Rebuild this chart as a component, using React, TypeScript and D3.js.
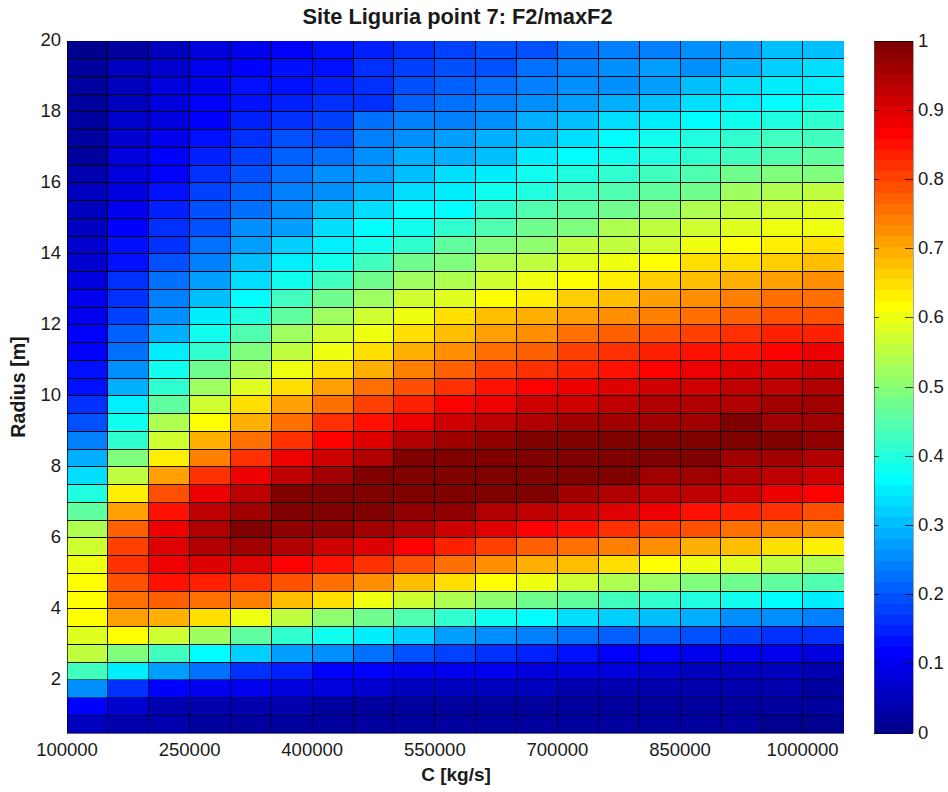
import React from "react";
import * as d3 from "d3";

const titleText = "Site Liguria point 7: F2/maxF2";
const xLabelText = "C [kg/s]";
const yLabelText = "Radius [m]";
const cStarts = [100000,150000,200000,250000,300000,350000,400000,450000,500000,550000,600000,650000,700000,750000,800000,850000,900000,950000,1000000];
const radiusTops = [20,19.5,19,18.5,18,17.5,17,16.5,16,15.5,15,14.5,14,13.5,13,12.5,12,11.5,11,10.5,10,9.5,9,8.5,8,7.5,7,6.5,6,5.5,5,4.5,4,3.5,3,2.5,2,1.5,1];
const xTicks = [100000,250000,400000,550000,700000,850000,1000000];
const yTicks = [2,4,6,8,10,12,14,16,18,20];
const barTicks = [0,0.1,0.2,0.3,0.4,0.5,0.6,0.7,0.8,0.9,1];

// F2/maxF2, rows from the top of the plot (radius 20) to the bottom
const f2Ratio = [
[.01,.03,.06,.08,.10,.11,.13,.15,.165,.18,.19,.20,.22,.235,.235,.25,.27,.30,.31],
[.02,.05,.07,.10,.11,.125,.14,.16,.18,.19,.20,.225,.245,.26,.275,.265,.29,.32,.34],
[.02,.055,.08,.10,.125,.135,.15,.165,.19,.21,.225,.235,.255,.265,.28,.30,.33,.35,.35],
[.02,.06,.085,.11,.13,.15,.165,.17,.215,.225,.235,.255,.27,.285,.31,.33,.35,.365,.385],
[.03,.065,.09,.11,.15,.17,.185,.22,.24,.245,.265,.285,.31,.33,.35,.365,.385,.395,.41],
[.03,.07,.10,.125,.17,.19,.20,.24,.26,.275,.29,.31,.335,.365,.385,.40,.42,.43,.43],
[.03,.08,.11,.15,.18,.205,.22,.26,.285,.285,.30,.345,.365,.38,.395,.42,.43,.45,.465],
[.04,.085,.11,.17,.195,.225,.26,.275,.30,.33,.35,.38,.40,.41,.43,.45,.47,.485,.495],
[.05,.09,.13,.18,.21,.24,.265,.29,.33,.35,.375,.395,.43,.445,.46,.475,.52,.535,.55],
[.06,.10,.15,.19,.225,.26,.30,.33,.365,.365,.42,.445,.46,.475,.515,.535,.555,.57,.59],
[.06,.11,.17,.20,.25,.28,.33,.365,.39,.41,.45,.48,.495,.535,.55,.575,.585,.60,.605],
[.07,.125,.17,.22,.27,.32,.355,.39,.42,.455,.49,.505,.55,.56,.575,.605,.615,.63,.65],
[.07,.135,.19,.245,.30,.355,.38,.43,.47,.495,.535,.56,.58,.605,.615,.645,.655,.67,.685],
[.08,.16,.22,.27,.33,.39,.43,.48,.52,.54,.57,.60,.615,.635,.665,.68,.695,.71,.725],
[.10,.165,.245,.31,.365,.43,.48,.52,.57,.59,.615,.64,.665,.68,.705,.72,.74,.755,.76],
[.10,.18,.255,.345,.405,.465,.52,.565,.605,.645,.675,.69,.71,.725,.74,.755,.77,.785,.795],
[.11,.205,.295,.38,.45,.52,.565,.605,.65,.685,.71,.725,.76,.775,.79,.80,.815,.83,.835],
[.115,.225,.35,.42,.495,.56,.605,.655,.695,.73,.76,.775,.80,.815,.83,.85,.855,.865,.88],
[.13,.255,.38,.48,.545,.605,.65,.695,.74,.77,.80,.82,.835,.85,.865,.875,.895,.895,.92],
[.14,.295,.42,.52,.59,.655,.71,.76,.79,.82,.85,.865,.88,.895,.915,.92,.93,.935,.94],
[.17,.35,.46,.57,.655,.71,.76,.81,.835,.865,.885,.915,.915,.935,.95,.95,.95,.965,.965],
[.20,.38,.535,.615,.695,.765,.82,.85,.885,.915,.935,.95,.965,.965,.965,.965,.985,.965,.965],
[.24,.42,.575,.69,.765,.82,.865,.90,.94,.96,.97,.985,.985,.985,.985,.985,.985,.985,.97],
[.285,.495,.63,.74,.82,.88,.92,.95,.985,.985,1,1,1,1,.985,.985,.965,.965,.95],
[.33,.56,.705,.825,.885,.935,.965,.985,1,1,1,1,1,.985,.965,.965,.95,.93,.92],
[.395,.635,.79,.89,.935,.99,1,1,1,1,1,.985,.965,.95,.935,.925,.915,.885,.865],
[.465,.71,.85,.935,.965,1,1,1,.98,.97,.945,.93,.915,.895,.88,.85,.835,.815,.795],
[.535,.775,.875,.945,.985,.975,.975,.96,.945,.915,.895,.865,.85,.82,.80,.79,.76,.74,.725],
[.57,.80,.90,.95,.96,.95,.915,.895,.865,.835,.805,.775,.76,.735,.725,.70,.685,.65,.63],
[.60,.815,.88,.895,.90,.865,.85,.815,.785,.75,.725,.695,.68,.65,.615,.60,.59,.56,.535],
[.615,.79,.85,.835,.815,.79,.76,.725,.685,.655,.615,.60,.575,.545,.52,.49,.48,.46,.45],
[.615,.76,.775,.765,.735,.68,.65,.60,.575,.535,.50,.475,.46,.43,.415,.395,.38,.365,.35],
[.615,.705,.695,.655,.60,.56,.515,.475,.44,.41,.38,.365,.34,.315,.30,.285,.265,.25,.245],
[.585,.615,.575,.53,.465,.41,.38,.355,.315,.27,.25,.24,.23,.215,.205,.195,.185,.17,.16],
[.55,.495,.43,.365,.315,.28,.25,.22,.20,.175,.16,.15,.135,.12,.115,.105,.10,.095,.09],
[.43,.35,.28,.22,.165,.155,.115,.11,.105,.10,.095,.085,.08,.08,.07,.06,.055,.05,.045],
[.255,.16,.115,.095,.105,.09,.08,.07,.06,.055,.05,.05,.045,.045,.04,.04,.035,.035,.03],
[.11,.065,.045,.04,.035,.035,.03,.03,.03,.03,.03,.025,.025,.025,.02,.02,.02,.02,.02],
[.05,.04,.035,.03,.03,.03,.03,.03,.03,.025,.025,.025,.02,.02,.02,.02,.02,.015,.015],
];

const W = 948, H = 792;
const plot = { l: 67, r: 843.5, t: 41, b: 733 };
const bar = { l: 874, r: 913 };
const font = "'Liberation Sans', Arial, sans-serif";
const textColor = "#1a1a1a";

const xScale = d3.scaleLinear().domain([100000, 1050000]).range([plot.l, plot.r]);
const yScale = d3.scaleLinear().domain([0.5, 20]).range([plot.b, plot.t]);
const barScale = d3.scaleLinear().domain([0, 1]).range([plot.b, plot.t]);

const jetRamp = d3.scaleLinear<string>()
  .domain([0, 0.1111, 0.3651, 0.619, 0.873, 1])
  .range(["#00008f", "#0000ff", "#00ffff", "#ffff00", "#ff0000", "#800000"]);
const jet = (v: number) => jetRamp(Math.min(63, Math.floor(v * 64)) / 63);
const levels = d3.range(64);
const fadeFrom = 2.5;

export default function App() {
  const cW = 50000, rH = 0.5;
  return (
    <svg width={W} height={H} viewBox={`0 0 ${W} ${H}`}
      style={{ position: "absolute", left: 0, top: 0, background: "#fff" }} fontFamily={font}>
      <g shapeRendering="crispEdges">
        {f2Ratio.map((row, i) => row.map((v, j) => (
          <rect key={`${i}-${j}`} x={xScale(cStarts[j])} y={yScale(radiusTops[i])}
            width={xScale(cStarts[j] + cW) - xScale(cStarts[j])}
            height={yScale(radiusTops[i] - rH) - yScale(radiusTops[i])} fill={jet(v)} />
        )))}
        {cStarts.map((c) => (
          <g key={c}>
            <line x1={xScale(c)} x2={xScale(c)} y1={plot.t} y2={yScale(fadeFrom)} stroke="#000" strokeOpacity={c === 100000 ? 0.7 : 0.9} />
            <line x1={xScale(c)} x2={xScale(c)} y1={yScale(fadeFrom)} y2={plot.b} stroke="#000" strokeOpacity={0.6} />
          </g>
        ))}
        {radiusTops.slice(1).map((r) => (
          <line key={r} x1={plot.l} x2={plot.r} y1={yScale(r)} y2={yScale(r)} stroke="#000" strokeOpacity={r < fadeFrom ? 0.55 : 0.95} />
        ))}
        <line x1={plot.l} x2={plot.r} y1={plot.b} y2={plot.b} stroke="#000" strokeOpacity={0.6} />
      </g>

      <text x={457.5} y={24} textAnchor="middle" fontSize={21.8} fontWeight="bold" fill={textColor}>{titleText}</text>

      {yTicks.map((t) => (
        <text key={t} x={61} y={yScale(t) - 1.3} dy="0.36em" textAnchor="end" fontSize={18.5} fill={textColor}>{t}</text>
      ))}
      {xTicks.map((t) => (
        <text key={t} x={xScale(t)} y={756} textAnchor="middle" fontSize={18.5} fill={textColor}>{t}</text>
      ))}
      <text x={456} y={781} textAnchor="middle" fontSize={19} fontWeight="bold" fill={textColor}>{xLabelText}</text>
      <text transform={`translate(25,387) rotate(-90)`} textAnchor="middle" fontSize={19.6} fontWeight="bold" fill={textColor}>{yLabelText}</text>

      <g shapeRendering="crispEdges">
        {levels.map((k) => (
          <rect key={k} x={bar.l} width={bar.r - bar.l} y={barScale((k + 1) / 64)}
            height={barScale(k / 64) - barScale((k + 1) / 64) + 0.5} fill={jet((k + 0.5) / 64)} />
        ))}
        {barTicks.map((t) => (
          <g key={t}>
            <line x1={bar.l} x2={bar.l + 5} y1={barScale(t)} y2={barScale(t)} stroke="#000" strokeOpacity={0.75} />
            <line x1={bar.r - 8} x2={bar.r} y1={barScale(t)} y2={barScale(t)} stroke="#000" strokeOpacity={0.75} />
          </g>
        ))}
        <line x1={bar.l} x2={bar.l} y1={plot.t} y2={plot.b} stroke="#555" strokeOpacity={0.7} />
        <line x1={bar.l} x2={bar.r} y1={plot.t} y2={plot.t} stroke="#000" strokeOpacity={0.7} />
        <line x1={bar.r} x2={bar.r} y1={plot.t} y2={plot.b} stroke="#000" strokeOpacity={0.35} />
      </g>
      {barTicks.map((t) => (
        <text key={t} x={918} y={barScale(t) - 1} dy="0.36em" fontSize={18.5} fill={textColor}>{t}</text>
      ))}
    </svg>
  );
}
